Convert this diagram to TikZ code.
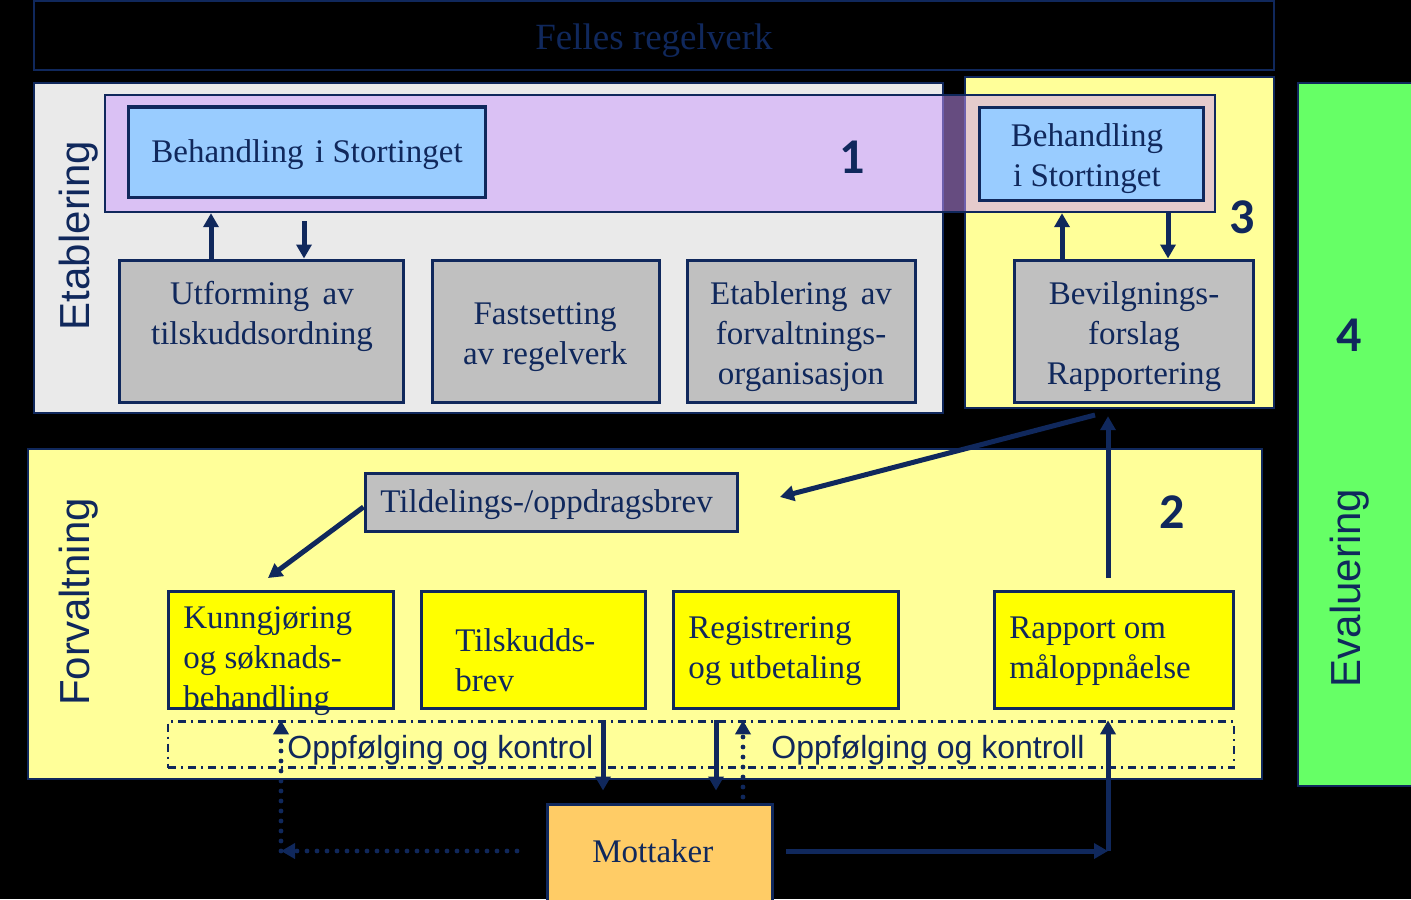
\documentclass[tikz,border=0pt]{standalone}
\usepackage{fontspec}
\setmainfont{Liberation Serif}
\setsansfont{Liberation Sans}
\newfontfamily\numfont{Carlito}
\usetikzlibrary{arrows.meta}
\definecolor{navy}{RGB}{16,40,92}
\definecolor{panelgrey}{HTML}{EAEAEA}
\definecolor{boxgrey}{HTML}{C0C0C0}
\definecolor{skyblue}{HTML}{99CCFF}
\definecolor{lavender}{HTML}{CC99FF}
\definecolor{paleyellow}{HTML}{FFFF99}
\definecolor{brightyellow}{HTML}{FFFF00}
\definecolor{evalgreen}{HTML}{66FF66}
\definecolor{mottorange}{HTML}{FFCC66}
\begin{document}
\begin{tikzpicture}[x=0.5pt,y=-0.5pt,
  box/.style={draw=navy, line width=1.5pt, inner sep=0pt},
  serif/.style={text=navy, font=\fontsize{16.5}{20}\selectfont, inner sep=0pt},
  sans/.style={text=navy, font=\sffamily\fontsize{16}{19}\selectfont, inner sep=0pt},
  side/.style={text=navy, font=\sffamily\fontsize{21}{25}\selectfont, inner sep=0pt, rotate=90},
  num/.style={text=navy, font=\numfont\bfseries\fontsize{25}{30}\selectfont, inner sep=0pt},
  arr/.style={draw=navy, line width=2.5pt, -{Triangle[length=7pt,width=7.5pt]}},
  dotarr/.style={draw=navy, line width=2.4pt, line cap=round, dash pattern=on 0pt off 5pt, -{Triangle[length=7pt,width=7.5pt]}}
]
\fill[black] (0,0) rectangle (1411,899);
\useasboundingbox (0,0) rectangle (1411,899);

% top frame
\node[box, line width=1.2pt, minimum width=620pt, minimum height=34.5pt] (felles) at (654,35.5) {};
\node[text=navy, font=\fontsize{18.5}{22}\selectfont, inner sep=0pt, anchor=base] (fellest) at (654,50) {Felles regelverk};

% panels
\node[box, line width=1.2pt, fill=panelgrey, minimum width=454.5pt, minimum height=165pt] (etab) at (488.5,248) {};
\node[box, line width=1.2pt, fill=paleyellow, minimum width=154.5pt, minimum height=165.5pt] (p3) at (1119.5,242.5) {};
\node[box, line width=1.2pt, fill=lavender, fill opacity=0.5, minimum width=555pt, minimum height=58.5pt] (band) at (660,153.5) {};
\node[box, fill=skyblue, minimum width=178.5pt, minimum height=45pt] (blue1) at (306.5,152) {};
\node[box, fill=skyblue, minimum width=112pt, minimum height=46.5pt] (blue3) at (1091,153.5) {};
\node[box, fill=boxgrey, minimum width=142pt, minimum height=71pt] (utf) at (261,331) {};
\node[box, fill=boxgrey, minimum width=113.5pt, minimum height=71pt] (fast) at (545.5,331) {};
\node[box, fill=boxgrey, minimum width=114pt, minimum height=71pt] (etav) at (801,331) {};
\node[box, fill=boxgrey, minimum width=119.5pt, minimum height=71pt] (bev) at (1133.5,331) {};
\node[box, line width=1.2pt, fill=evalgreen, minimum width=58pt, minimum height=351.5pt] (green) at (1356,434.5) {};
\node[box, line width=1.2pt, fill=paleyellow, minimum width=617pt, minimum height=165pt] (forv) at (645,614) {};
\node[box, fill=boxgrey, minimum width=186pt, minimum height=29pt] (tild) at (551,502) {};
\node[box, fill=brightyellow, minimum width=112.5pt, minimum height=58.5pt] (kunn) at (280.5,649.5) {};
\node[box, fill=brightyellow, minimum width=112pt, minimum height=58.5pt] (tilsk) at (533,649.5) {};
\node[box, fill=brightyellow, minimum width=112.5pt, minimum height=58.5pt] (regis) at (785.5,649.5) {};
\node[box, fill=brightyellow, minimum width=119.5pt, minimum height=58.5pt] (rapp) at (1114,649.5) {};
\node[draw=navy, line width=1.2pt, dash pattern=on 4pt off 2.5pt on 1pt off 2.5pt, inner sep=0pt, minimum width=533pt, minimum height=23pt] (dd) at (701,744.5) {};
\node[box, fill=mottorange, minimum width=112.5pt, minimum height=50pt] (mott) at (659.5,854) {};

% texts
\node[serif, anchor=base] (blue1t) at (307,162) {Behandling\hspace{0.1em} i Stortinget};
\node[serif, align=center] (blue3t) at (1087,159) {Behandling\\i Stortinget};
\node[serif, align=center] (utft) at (262,316) {Utforming\hspace{0.15em} av\\tilskuddsordning};
\node[serif, align=center] (fastt) at (545,337) {Fastsetting\\av regelverk};
\node[serif, align=center] (etavt) at (801,337) {Etablering\hspace{0.15em} av\\forvaltnings-\\organisasjon};
\node[serif, align=center] (bevt) at (1134,337) {Bevilgnings-\\forslag\\Rapportering};
\node[serif, anchor=base west] (tildt) at (380,512) {Tildelings-/oppdragsbrev};
\node[serif, align=left, anchor=west] (kunnt) at (183,661) {Kunngjøring\\og søknads-\\behandling};
\node[serif, align=left, anchor=west] (tilskt) at (455,660) {Tilskudds-\\brev};
\node[serif, align=left, anchor=west] (regist) at (688,651) {Registrering\\og utbetaling};
\node[serif, align=left, anchor=west] (rappt) at (1009,651) {Rapport om\\måloppnåelse};
\node[serif, anchor=base west] (mottt) at (592,862) {Mottaker};
\node[sans, anchor=base west] (opp1) at (287,758) {Oppfølging og kontrol};
\node[sans, anchor=base west] (opp2) at (771,758) {Oppfølging og kontroll};
\node[side] (etabt) at (79,235.5) {Etablering};
\node[side] (forvt) at (79,602) {Forvaltning};
\node[side] (evalt) at (1350,588) {Evaluering};
\node[num] (n1) at (852,157) {1};
\node[num] (n2) at (1172,512) {2};
\node[num] (n3) at (1242,217) {3};
\node[num] (n4) at (1349,335) {4};

% coordinates for free ends
\coordinate (a1) at (211,0);
\coordinate (a2) at (304,0);
\coordinate (a3) at (1062,0);
\coordinate (a4) at (1168,0);
\coordinate (k1) at (268,578);
\coordinate (b1) at (1095,415);
\coordinate (t1) at (780,497);
\coordinate (r0) at (1108,578);
\coordinate (m1) at (603,0);
\coordinate (m2) at (716,0);
\coordinate (m3) at (743,797);
\coordinate (dl0) at (517,851);
\coordinate (dlc) at (281,851);
\coordinate (dr0) at (786,851);
\coordinate (drc) at (1108,851);

% connectors
\draw[arr] (utf.north -| a1) -- (band.south -| a1);
\draw[arr, shorten <=4pt] (band.south -| a2) -- (utf.north -| a2);
\draw[arr] (bev.north -| a3) -- (band.south -| a3);
\draw[arr] (band.south -| a4) -- (bev.north -| a4);
\draw[arr] ([yshift=-2.5pt]tild.west) -- (k1);
\draw[arr] (b1) -- (t1);
\draw[arr, shorten >=3.5pt] (r0) -- (p3.south -| r0);
\draw[arr, shorten >=6pt] (dd.north -| m1) -- (mott.north -| m1);
\draw[arr, shorten >=6pt] (dd.north -| m2) -- (mott.north -| m2);
\draw[dotarr] (m3) -- (dd.north -| m3);
\draw[dotarr] (dl0) -- (dlc);
\draw[dotarr] (dlc) -- (dd.north -| dlc);
\draw[arr] (dr0) -- (drc);
\draw[arr] (drc) -- (dd.north -| drc);
\end{tikzpicture}
\end{document}
